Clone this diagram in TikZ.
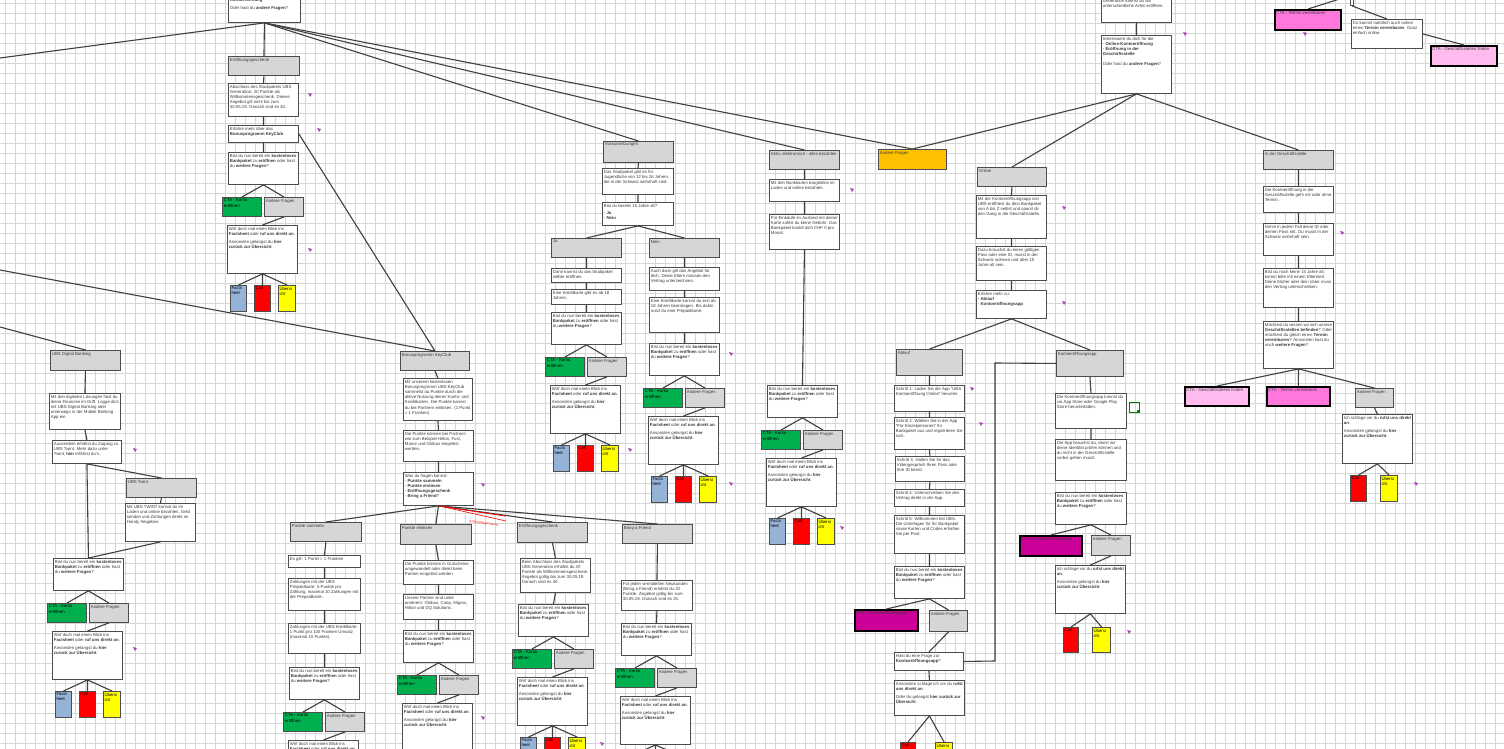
\documentclass[tikz,border=0pt]{standalone}
\usepackage{fontspec}
\setmainfont{Liberation Sans}
\definecolor{bordc}{HTML}{4D4D4D}
\definecolor{greyc}{HTML}{D6D6D6}
\definecolor{ctagreen}{HTML}{00B04F}
\definecolor{btnblue}{HTML}{95B3D7}
\definecolor{btnred}{HTML}{FF0000}
\definecolor{btnyel}{HTML}{FFFF00}
\definecolor{orangec}{HTML}{FFC000}
\definecolor{magc}{HTML}{CC0099}
\definecolor{pinkc}{HTML}{FF77DD}
\definecolor{lpinkc}{HTML}{FFBBEE}
\definecolor{linec}{HTML}{404040}
\definecolor{markc}{HTML}{B040C0}
\definecolor{gridc}{HTML}{D6D6D6}
\definecolor{txtc}{HTML}{3A3A3A}

% box from (x1,y1) to (x2,y2), text set top-left
\newcommand\bx[7]{%
  \pgfmathsetmacro\bw{(#4)-(#2)-3}\pgfmathsetmacro\bh{(#5)-(#3)-3}%
  \node[#6,anchor=north west] (#1) at (#2,#3)
    {\parbox[t][\bh pt][t]{\bw pt}{\raggedright #7}};}

\newcommand\bist{Bist du nun bereit ein \textbf{kostenloses Bankpaket} zu \textbf{eröffnen} oder hast du \textbf{weitere Fragen}?}
\newcommand\wirf{Wirf doch mal einen Blick ins \textbf{Factsheet} oder \textbf{ruf uns direkt an}.\par\vspace{3pt}Ansonsten gelangst du \textbf{hier zurück zur Übersicht}.}
\newcommand\ruf{Ich schlage vor du \textbf{rufst uns direkt an}.\par\vspace{3pt}Ansonsten gelangst du \textbf{hier zurück zur Übersicht}.}

% closing block: question, CTA, other questions, hint, three buttons
\newcommand\closeblock[3]{%
  \bx{#1Q}{#2}{#3}{#2+70}{#3+32}{wbox}{\bist}
  \bx{#1G}{#2-6}{#3+45}{#2+33}{#3+64}{cta}{CTA - Konto eröffnen}
  \bx{#1A}{#2+36}{#3+45}{#2+75}{#3+64}{gbox}{Andere Fragen}
  \bx{#1W}{#2-1}{#3+73}{#2+69}{#3+121}{wbox}{\wirf}
  \bx{#1F}{#2+2}{#3+133}{#2+19}{#3+160}{btnb}{Facts heet}
  \bx{#1C}{#2+26}{#3+133}{#2+43}{#3+160}{btnr}{Call}
  \bx{#1U}{#2+50}{#3+133}{#2+68}{#3+160}{btny}{Übersi cht}
  \draw[conn] (#1Q.south) -- (#1G.north) (#1Q.south) -- (#1A.north)
    (#1A.south) -- (#1W.north) (#1W.south) -- (#1F.north)
    (#1W.south) -- (#1C.north) (#1W.south) -- (#1U.north);}

\begin{document}
\begin{tikzpicture}[x=1pt,y=-1pt,
  base/.style={draw=bordc,line width=1.1pt,inner sep=1.4pt,
    font=\fontsize{4.3}{5.2}\selectfont,text=txtc},
  wbox/.style={base,fill=white},
  gbox/.style={base,fill=greyc},
  cta/.style={base,fill=ctagreen,text=black},
  obox/.style={base,fill=orangec},
  btnb/.style={base,fill=btnblue,inner sep=1pt,text=black},
  btnr/.style={base,fill=btnred,inner sep=1pt,text=black},
  btny/.style={base,fill=btnyel,inner sep=1pt,text=black},
  mbox/.style={base,fill=magc,draw=black,line width=2pt},
  pbox/.style={base,fill=pinkc,draw=black,line width=2pt},
  lpbox/.style={base,fill=lpinkc,draw=black,line width=2pt},
  conn/.style={draw=linec,line width=1.1pt}]
\useasboundingbox (0,0) rectangle (1504,749);
\clip (0,0) rectangle (1504,749);
\fill[white] (0,0) rectangle (1504,749);
\foreach \i in {5,15,...,1505} \draw[gridc,line width=0.7pt] (\i,0) -- (\i,749);
\foreach \j in {3,13,...,753} \draw[gridc,line width=0.7pt] (0,\j) -- (1504,\j);

% ---------- top left: opening ----------
\bx{top}{228}{-4}{300}{22}{wbox}{\textbf{Kontoeröffnung}\par\vspace{3pt}Oder hast du \textbf{andere Fragen}?}
\coordinate (offa) at (0,58);
\coordinate (offb) at (0,270);
\coordinate (offc) at (0,327);

\bx{egA}{228}{56}{299}{75}{gbox}{Eröffnungsgeschenk}
\bx{egw}{228}{83}{298}{116}{wbox}{Abschluss des Studipakets UBS Generation: 20 Punkte als Willkommensgeschenk. Dieses Angebot gilt nicht bis zum 30.05.19. Danach sind es 40.}
\bx{kcl}{228}{125}{298}{142}{wbox}{Erfahre mehr über das \textbf{Bonusprogramm KeyClub}}
\closeblock{l}{228}{152}
\draw[conn] (top.south) -- (offa) (top.south) -- (egA.north) (egA.south) -- (egw.north)
  (egw.south) -- (kcl.north) (kcl.south) -- (lQ.north);

% ---------- UBS Digital Banking ----------
\bx{ubs}{50}{350}{120}{370}{gbox}{UBS Digital Banking}
\bx{ubs1}{49}{393}{120}{429}{wbox}{Mit den digitalen Lösungen hast du deine Finanzen im Griff. Logge dich mit UBS Digital Banking oder unterwegs in der Mobile Banking App ein.}
\bx{ubs2}{52}{440}{121}{463}{wbox}{Ausserdem erhältst du Zugang zu UBS Twint. Mehr dazu unter Twint, \textbf{hier} erfährst du's.}
\bx{tw}{126}{478}{196}{497}{gbox}{UBS Twint}
\bx{tw1}{125}{503}{195}{541}{wbox}{Mit UBS TWINT kannst du im Laden und online bezahlen, Geld senden und Zahlungen direkt im Handy freigeben.}
\closeblock{u}{53}{558}
\draw[conn] (offc) -- (ubs.north) (ubs.south) -- (ubs1.north) (ubs1.south) -- (ubs2.north)
  (ubs2.south) -- (uQ.north) (ubs2.south) -- (tw.north) (tw.south) -- (tw1.north)
  (tw1.south) -- (uQ.north);

% ---------- Bonusprogramm KeyClub ----------
\bx{kc}{400}{351}{469}{370}{gbox}{Bonusprogramm KeyClub}
\bx{kc1}{403}{378}{472}{420}{wbox}{Mit unserem kostenlosen Bonusprogramm UBS KeyClub sammelst du Punkte durch die aktive Nutzung deiner Konto- und Kreditkarten. Die Punkte kannst du bei Partnern einlösen. (1 Punkt = 1 Franken)}
\bx{kc2}{403}{430}{473}{461}{wbox}{Die Punkte können bei Partnern wie zum Beispiel Hilton, Fust, Manor und Globus eingelöst werden.}
\bx{kc3}{403}{472}{473}{505}{wbox}{Was du fragen kannst:\par - \textbf{Punkte sammeln}\par - \textbf{Punkte einlösen}\par - \textbf{Eröffnungsgeschenk}\par - \textbf{Bring a Friend}?}
\draw[conn] (offb) -- (kc.north) (kcl.east) -- (kc.north) (kc.south) -- (kc1.north)
  (kc1.south) -- (kc2.north) (kc2.south) -- (kc3.north);

\bx{ps}{290}{522}{361}{541}{gbox}{Punkte sammeln}
\bx{ps1}{288}{555}{360}{567}{wbox}{Es gilt: 1 Punkt = 1 Franken}
\bx{ps2}{288}{578}{360}{610}{wbox}{Zahlungen mit der UBS Prepaidkarte: 5 Punkte pro Zahlung, maximal 10 Zahlungen mit der Prepaidkarte.}
\bx{ps3}{288}{623}{360}{653}{wbox}{Zahlungen mit der UBS Kreditkarte: 1 Punkt pro 100 Franken Umsatz (maximal 10 Punkte).}
\closeblock{p}{289}{667}
\draw[conn] (kc3.south) -- (ps.north) (ps.south) -- (ps1.north) (ps1.south) -- (ps2.north)
  (ps2.south) -- (ps3.north) (ps3.south) -- (pQ.north);

\bx{pe}{400}{524}{471}{544}{gbox}{Punkte einlösen}
\bx{pe1}{403}{560}{473}{584}{wbox}{Die Punkte können in Gutscheine umgewandelt oder direkt beim Partner eingelöst werden.}
\bx{pe2}{403}{594}{473}{619}{wbox}{Unsere Partner sind unter anderem: Globus, Coop, Migros, Hilton und DQ Solutions.}
\closeblock{e}{403}{630}
\draw[conn] (kc3.south) -- (pe.north) (pe.south) -- (pe1.north) (pe1.south) -- (pe2.north)
  (pe2.south) -- (eQ.north);

\bx{eg2}{517}{522}{587}{542}{gbox}{Eröffnungsgeschenk}
\bx{eg21}{520}{558}{590}{592}{wbox}{Beim Abschluss des Studipakets UBS Generation erhältst du 20 Punkte als Willkommensgeschenk. Angebot gültig bis zum 30.05.19. Danach sind es 40.}
\closeblock{g}{518}{604}
\draw[conn] (kc3.south) -- (eg2.north) (eg2.south) -- (eg21.north) (eg21.south) -- (gQ.north);

\bx{bf}{622}{524}{692}{543}{gbox}{Bring a Friend}
\bx{bf1}{621}{580}{692}{610}{wbox}{Für jeden vermittelten Neukunden (Bring a Friend) erhältst du 20 Punkte. Angebot gültig bis zum 30.05.19. Danach sind es 25.}
\closeblock{f}{621}{623}
\draw[conn] (kc3.south) -- (bf.north) (bf.south) -- (bf1.north) (bf1.south) -- (fQ.north);

% red remark on the link to the opening gift
\draw[red,line width=0.8pt] (kc3.south) -- (505,516);
\draw[red,line width=0.6pt] (444,507) -- (506,521);
\node[red,font=\fontsize{3.2}{3.6}\selectfont,rotate=-8,anchor=west] (rem) at (466,521) {Eröffnungsgeschenk};

% ---------- Voraussetzungen ----------
\bx{vo}{603}{141}{673}{162}{gbox}{Voraussetzungen}
\bx{vo1}{602}{168}{673}{194}{wbox}{Das Studipaket gibt es für Jugendliche von 12 bis 26 Jahren, die in der Schweiz wohnhaft sind.}
\bx{vo2}{602}{202}{673}{225}{wbox}{Bist du bereits 15 Jahre alt?\par\vspace{2pt}- \textbf{Ja}\par - \textbf{Nein}}
\bx{jah}{551}{238}{621}{257}{gbox}{Ja}
\bx{ja1}{551}{268}{621}{282}{wbox}{Dann kannst du das Studipaket selber eröffnen.}
\bx{ja2}{551}{289}{621}{304}{wbox}{Eine Kreditkarte gibt es ab 18 Jahren.}
\closeblock{j}{551}{312}
\bx{nei}{649}{238}{719}{257}{gbox}{Nein}
\bx{ne1}{649}{267}{719}{290}{wbox}{Auch dann gilt das Angebot für dich. Deine Eltern müssen den Vertrag unterzeichnen.}
\bx{ne2}{649}{297}{719}{332}{wbox}{Eine Kreditkarte kannst du erst ab 18 Jahren beantragen. Bis dahin nutzt du eine Prepaidkarte.}
\closeblock{n}{649}{343}
\draw[conn] (top.south) -- (vo.north) (vo.south) -- (vo1.north) (vo1.south) -- (vo2.north)
  (vo2.south) -- (jah.north) (vo2.south) -- (nei.north)
  (jah.south) -- (ja1.north) (ja1.south) -- (ja2.north) (ja2.south) -- (jQ.north)
  (nei.south) -- (ne1.north) (ne1.south) -- (ne2.north) (ne2.south) -- (nQ.north);

% ---------- Aktiv, elektronisch ----------
\bx{ak}{769}{150}{839}{169}{gbox}{Aktiv, elektronisch - alles bezahlen}
\bx{ak1}{769}{179}{839}{201}{wbox}{Mit den Bankkarten bargeldlos im Laden und online bezahlen.}
\bx{ak2}{769}{214}{839}{249}{wbox}{Für Einkäufe im Ausland mit deiner Karte zahlst du keine Gebühr. Das Bankpaket kostet dich CHF 0 pro Monat.}
\closeblock{a}{767}{385}
\draw[conn] (top.south) -- (ak.north) (ak.south) -- (ak1.north) (ak1.south) -- (ak2.north)
  (ak2.south) -- (aQ.north);

% ---------- other questions ----------
\bx{and}{878}{149}{946}{169}{obox}{Andere Fragen}

% ---------- top right: ways to open ----------
\bx{tr0}{1101}{-3}{1171}{22}{wbox}{Generation kannst du auf unterschiedliche Arten eröffnen.}
\bx{int}{1101}{35}{1171}{93}{wbox}{Interessiere du dich für die\par - \textbf{Online-Kontoeröffnung}\par - \textbf{Eröffnung in der Geschäftsstelle}\par\vspace{5pt}Oder hast du \textbf{andere Fragen}?}
\bx{tv0}{1274}{9}{1340}{29}{pbox}{CTA - Termin vereinbaren}
\coordinate (offd) at (1346,-3);
\bx{tr1}{1350}{-20}{1422}{5}{wbox}{}
\bx{dk}{1351}{19}{1422}{48}{wbox}{Du kannst natürlich auch online einen \textbf{Termin vereinbaren}. Ganz einfach online.}
\bx{gf0}{1430}{45}{1496}{65}{lpbox}{CTA - Geschäftsstellen finden}
\draw[conn] (tr0.south) -- (int.north) (tv0.north) -- (offd) (tr1.south) -- (dk.north)
  (dk.east) -- (gf0.north) (top.south) -- (and.north) (int.south) -- (and.north);

% ---------- Online ----------
\bx{on}{977}{167}{1046}{186}{gbox}{Online}
\bx{on1}{976}{195}{1046}{238}{wbox}{Mit der Kontoeröffnungsapp von UBS eröffnest du dein Bankpaket von A bis Z selbst und sparst dir den Gang in die Geschäftsstelle.}
\bx{on2}{976}{246}{1046}{280}{wbox}{Dazu brauchst du einen gültigen Pass oder eine ID, musst in der Schweiz wohnen und über 15 Jahre alt sein.}
\bx{on3}{976}{290}{1046}{318}{wbox}{Erfahre mehr zu:\par - \textbf{Ablauf}\par - \textbf{Kontoeröffnungsapp}}
\draw[conn] (int.south) -- (on.north) (on.south) -- (on1.north) (on1.south) -- (on2.north)
  (on2.south) -- (on3.north);

% Ablauf
\bx{abl}{896}{349}{962}{375}{gbox}{Ablauf}
\bx{ab1}{894}{385}{964}{411}{wbox}{Schritt 1: Laden Sie die App "UBS Kontoeröffnung Online" herunter.}
\bx{ab2}{894}{417}{964}{449}{wbox}{Schritt 2: Wählen Sie in der App "Für Einzelpersonen" Ihr Bankpaket aus und registrieren Sie sich.}
\bx{ab3}{895}{456}{964}{481}{wbox}{Schritt 3: Halten Sie für das Videogespräch Ihren Pass oder Ihre ID bereit.}
\bx{ab4}{894}{489}{964}{506}{wbox}{Schritt 4: Unterschreiben Sie den Vertrag direkt in der App.}
\bx{ab5}{894}{515}{964}{553}{wbox}{Schritt 5: Willkommen bei UBS. Die Unterlagen für Ihr Bankpaket sowie Karten und Codes erhalten Sie per Post.}
\bx{abb}{894}{566}{964}{598}{wbox}{\bist}
\bx{abm}{854}{609}{917}{630}{mbox}{CTA - Kontoeröffnungsapp}
\bx{aba}{929}{610}{967}{631}{gbox}{Andere Fragen}
\bx{abh}{894}{652}{963}{670}{wbox}{Hast du eine Frage zur \textbf{Kontoeröffnungsapp}?}
\bx{abr}{894}{680}{964}{715}{wbox}{Ansonsten schlage ich vor du \textbf{rufst uns direkt an}.\par\vspace{3pt}Oder du gelangst \textbf{hier zurück zur Übersicht}.}
\bx{abc}{900}{742}{916}{769}{btnr}{Call}
\bx{abu}{935}{742}{953}{769}{btny}{Übersi cht}
\draw[conn] (on3.south) -- (abl.north) (abl.south) -- (ab1.north) (ab1.south) -- (ab2.north)
  (ab2.south) -- (ab3.north) (ab3.south) -- (ab4.north) (ab4.south) -- (ab5.north)
  (ab5.south) -- (abb.north) (abb.south) -- (abm.north) (abb.south) -- (aba.north)
  (aba.south) -- (abh.north) (abh.south) -- (abr.north)
  (abr.south) -- (abc.north) (abr.south) -- (abu.north);

% Kontoeroeffnungsapp
\bx{ka}{1056}{350}{1123}{376}{gbox}{Kontoeröffnungsapp}
\bx{ka1}{1055}{393}{1126}{428}{wbox}{Die Kontoeröffnungsapp kannst du via App Store oder Google Play Store herunterladen.}
\bx{ka2}{1055}{439}{1126}{480}{wbox}{Die App brauchst du, damit wir deine Identität prüfen können und du nicht in der Geschäftsstelle vorbei gehen musst.}
\bx{kab}{1055}{492}{1126}{524}{wbox}{\bist}
\bx{kam}{1019}{535}{1081}{555}{mbox}{CTA - Kontoeröffnungsapp}
\bx{kaa}{1091}{535}{1130}{555}{gbox}{Andere Fragen}
\bx{kar}{1055}{565}{1125}{613}{wbox}{\ruf}
\bx{kac}{1063}{627}{1079}{653}{btnr}{Call}
\bx{kau}{1092}{627}{1111}{653}{btny}{Übersi cht}
\draw[conn] (on3.south) -- (ka.north) (ka.south) -- (ka1.north) (ka1.south) -- (ka2.north)
  (kab.south) -- (kam.north) (kab.south) -- (kaa.north) (kaa.south) -- (kar.north)
  (kar.south) -- (kac.north) (kar.south) -- (kau.north)
  (abh.east) -- (995,661) -- (995,363) -- (ka.west);
\draw[green!50!black,line width=1pt] (1129,402) rectangle (1139,412);
\fill[green!50!black] (1137,410) rectangle (1140,413);

% ---------- In der Geschaeftsstelle ----------
\bx{gs}{1263}{150}{1333}{169}{gbox}{In der Geschäftsstelle}
\bx{gs1}{1263}{186}{1333}{212}{wbox}{Die Kontoeröffnung in der Geschäftsstelle geht mit oder ohne Termin.}
\bx{gs2}{1263}{223}{1333}{255}{wbox}{Nimm in jedem Fall deine ID oder deinen Pass mit. Du musst in der Schweiz wohnhaft sein.}
\bx{gs3}{1263}{268}{1333}{307}{wbox}{Bist du noch keine 15 Jahre alt, komm bitte mit einem Elternteil. Deine Mutter oder dein Vater muss den Vertrag unterschreiben.}
\bx{gs4}{1263}{321}{1333}{368}{wbox}{Möchtest du wissen wo sich unsere \textbf{Geschäftsstellen befinden}? Oder möchtest du gleich einen \textbf{Termin vereinbaren}? Ansonsten hast du noch \textbf{weitere Fragen}?}
\bx{gsf}{1184}{386}{1248}{405}{lpbox}{CTA - Geschäftsstellen finden}
\bx{gst}{1266}{386}{1329}{405}{pbox}{CTA - Termin vereinbaren}
\bx{gsa}{1355}{388}{1393}{407}{gbox}{Andere Fragen}
\bx{gsr}{1342}{414}{1412}{463}{wbox}{\ruf}
\bx{gsc}{1350}{475}{1367}{502}{btnr}{Call}
\bx{gsu}{1380}{475}{1398}{502}{btny}{Übersi cht}
\draw[conn] (int.south) -- (gs.north) (gs.south) -- (gs1.north) (gs1.south) -- (gs2.north)
  (gs2.south) -- (gs3.north) (gs3.south) -- (gs4.north)
  (gs4.south) -- (gsf.north) (gs4.south) -- (gst.north) (gs4.south) -- (gsa.north)
  (gsa.south) -- (gsr.north) (gsr.south) -- (gsc.north) (gsr.south) -- (gsu.north);

% ---------- comment markers ----------
\foreach \p in {(308,93),(317,128),(308,248),(133,448),(133,647),(481,483),(481,716),
  (600,742),(628,448),(729,352),(729,482),(850,188),(840,526),(970,387),(979,422),
  (1062,206),(1062,301),(1127,630),(1340,231),(1414,482),(1183,32),(1303,32)}
  {\fill[markc] \p -- ++(4,1) -- ++(-2,3) -- cycle;}
\end{tikzpicture}
\end{document}
